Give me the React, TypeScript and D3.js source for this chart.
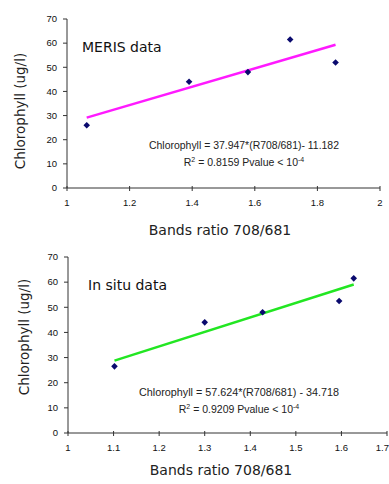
import React from 'react';
import { scaleLinear, line } from 'd3';

// MERIS panel
const merisRatio = [1.063, 1.39, 1.578, 1.713, 1.858];
const merisChl = [26, 44, 48, 61.5, 52];
const merisTicksX = [1, 1.2, 1.4, 1.6, 1.8, 2];
const merisSlope = 37.947;
const merisIntercept = -11.182;

// In situ panel
const situRatio = [1.102, 1.3, 1.427, 1.595, 1.627];
const situChl = [26.5, 44, 48, 52.5, 61.5];
const situTicksX = [1, 1.1, 1.2, 1.3, 1.4, 1.5, 1.6, 1.7];
const situSlope = 57.624;
const situIntercept = -34.718;

const chlTicks = [0, 10, 20, 30, 40, 50, 60, 70];

const tickFont = '"Liberation Sans", Arial, sans-serif';
const handFont = '"Comic Sans MS", "DejaVu Sans", sans-serif';

type PanelProps = {
  xs: number[];
  ys: number[];
  xTicks: number[];
  xDomain: [number, number];
  xRange: [number, number];
  yRange: [number, number];
  slope: number;
  intercept: number;
  lineColor: string;
  label: string;
  labelPos: [number, number];
  eq1: string;
  eq1Len: number;
  r2: string;
  eqPos: [number, number];
  yLabelPos: [number, number];
  xLabelPos: [number, number];
};

const Panel = (p: PanelProps) => {
  const x = scaleLinear().domain(p.xDomain).range(p.xRange);
  const y = scaleLinear().domain([0, 70]).range(p.yRange);
  const x0 = Math.min(...p.xs);
  const x1 = Math.max(...p.xs);
  const fit = line<number>()
    .x(d => x(d))
    .y(d => y(p.slope * d + p.intercept));
  const axisY = p.yRange[0];
  const left = p.xRange[0];

  return (
    <g>
      {/* y axis */}
      <line x1={left} x2={left} y1={p.yRange[1]} y2={axisY} stroke='#333' />
      {chlTicks.map(t => (
        <g key={t} transform={`translate(${left}, ${y(t)})`}>
          <line x1={-4} x2={0} stroke='#333' />
          <text x={-10} dy='.35em' textAnchor='end' fontSize={9.5}
            fontFamily={tickFont} fill='#111'>{t}</text>
        </g>
      ))}
      {/* x axis */}
      <line x1={left} x2={p.xRange[1]} y1={axisY} y2={axisY} stroke='#333' />
      {p.xTicks.map((t, i) => {
        const last = i === p.xTicks.length - 1 && x(t) > 383;
        return (
          <g key={t} transform={`translate(${x(t)}, ${axisY})`}>
            <line y1={-2} y2={3} stroke='#333' />
            <text x={last ? 389 - x(t) : 0} y={18} textAnchor={last ? 'end' : 'middle'}
              fontSize={9.5} fontFamily={tickFont} fill='#111'>{String(t)}</text>
          </g>
        );
      })}
      {/* regression line */}
      <path d={fit([x0, x1]) || ''} stroke={p.lineColor} strokeWidth={2.5} fill='none' />
      {/* points */}
      {p.xs.map((d, i) => (
        <path key={i}
          transform={`translate(${x(d)}, ${y(p.ys[i])})`}
          d='M0,-3.3 L3.3,0 L0,3.3 L-3.3,0 Z' fill='#0a0a6e' />
      ))}
      <text x={p.labelPos[0]} y={p.labelPos[1]} fontSize={14}
        fontFamily={handFont} fill='#111'>{p.label}</text>
      <text x={p.eqPos[0]} y={p.eqPos[1]} textAnchor='middle' fontSize={10.5}
        textLength={p.eq1Len} lengthAdjust='spacingAndGlyphs'
        fontFamily={tickFont} fill='#222'>{p.eq1}</text>
      <text x={p.eqPos[0]} y={p.eqPos[1] + 17} textAnchor='middle' fontSize={10.5}
        fontFamily={tickFont} fill='#222'>
        R<tspan dy={-4} fontSize={7}>2</tspan>
        <tspan dy={4}>{` = ${p.r2} Pvalue < 10`}</tspan>
        <tspan dy={-4} fontSize={7}>-4</tspan>
      </text>
      <text transform={`translate(${p.yLabelPos[0]}, ${p.yLabelPos[1]}) rotate(-90)`}
        textAnchor='middle' fontSize={13.5} fontFamily={handFont} fill='#222'>
        Chlorophyll (ug/l)
      </text>
      <text x={p.xLabelPos[0]} y={p.xLabelPos[1]} textAnchor='middle'
        fontSize={14} fontFamily={handFont} fill='#222'>
        Bands ratio 708/681
      </text>
    </g>
  );
};

export default function App() {
  return (
    <svg width={389} height={484}
      style={{ position: 'absolute', left: 0, top: 0, background: '#fff' }}>
      <Panel
        xs={merisRatio} ys={merisChl} xTicks={merisTicksX}
        xDomain={[1, 2]} xRange={[67, 380]} yRange={[188, 19]}
        slope={merisSlope} intercept={merisIntercept} lineColor='#ff1aff'
        label='MERIS data' labelPos={[82, 52]}
        eq1='Chlorophyll = 37.947*(R708/681)- 11.182' eq1Len={190} r2='0.8159'
        eqPos={[244, 149]} yLabelPos={[25, 111]} xLabelPos={[220, 235]}
      />
      <Panel
        xs={situRatio} ys={situChl} xTicks={situTicksX}
        xDomain={[1, 1.7]} xRange={[68, 387]} yRange={[433, 257]}
        slope={situSlope} intercept={situIntercept} lineColor='#22e622'
        label='In situ data' labelPos={[88, 290]}
        eq1='Chlorophyll = 57.624*(R708/681) - 34.718' eq1Len={200} r2='0.9209'
        eqPos={[239, 396]} yLabelPos={[29, 337]} xLabelPos={[221, 475]}
      />
    </svg>
  );
}
